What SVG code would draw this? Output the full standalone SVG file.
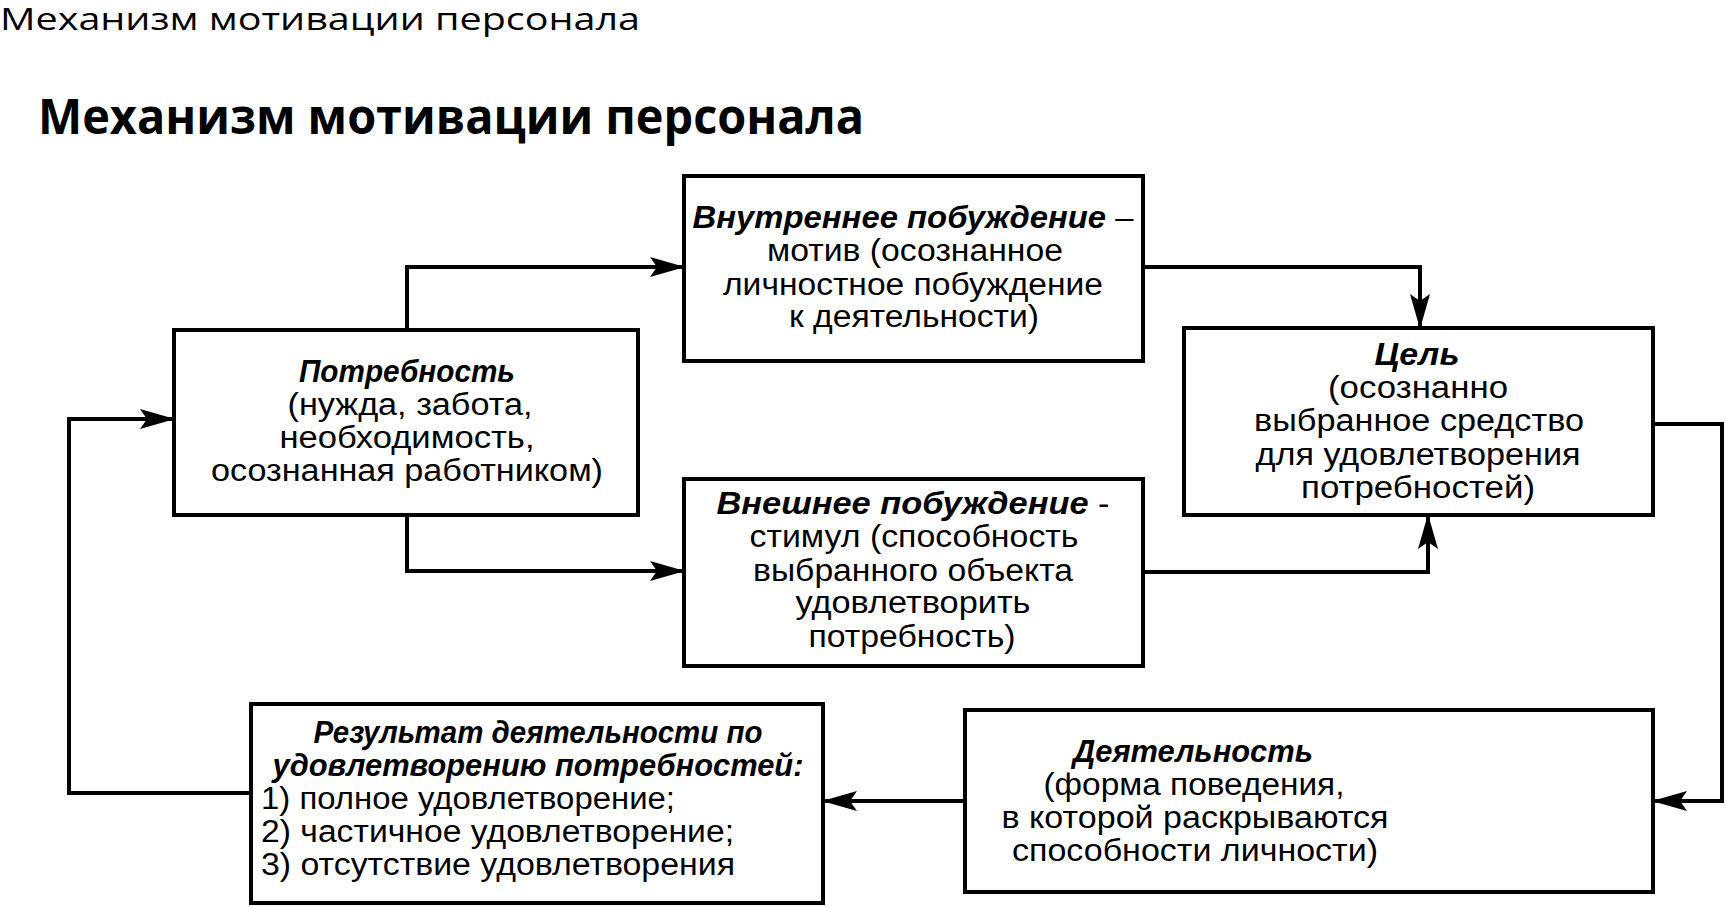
<svg xmlns="http://www.w3.org/2000/svg" width="1726" height="907" viewBox="0 0 1726 907">
<style>
.box{fill:#fff;stroke:#000;stroke-width:4}
.t{font-family:"Liberation Sans",Arial,sans-serif;font-size:31px;fill:#000;text-anchor:middle}
.n{font-family:"Liberation Sans Narrow","Liberation Sans",Arial,sans-serif;font-size:31px;fill:#000;text-anchor:middle}
.l{text-anchor:start}
.b{font-weight:bold;font-style:italic}
.c{fill:none;stroke:#000;stroke-width:4}
</style>
<defs>
<marker id="ah" markerUnits="userSpaceOnUse" markerWidth="40" markerHeight="26" refX="34" refY="11" orient="auto">
<path d="M0,1 L35,11 L0,21 L7,11 Z" fill="#000"/>
</marker>
</defs>
<rect width="1726" height="907" fill="#fff"/>
<text x="0" y="30" font-family="'Open Sans','Noto Sans',sans-serif" font-size="31" textLength="640" lengthAdjust="spacingAndGlyphs">Механизм мотивации персонала</text>
<text x="38" y="134" font-family="'Open Sans','Noto Sans',sans-serif" font-weight="bold" font-size="49" textLength="826" lengthAdjust="spacingAndGlyphs">Механизм мотивации персонала</text>

<g id="connectors">
<path class="c" d="M407,330 V267 H684" marker-end="url(#ah)"/>
<path class="c" d="M407,515 V571 H684" marker-end="url(#ah)"/>
<path class="c" d="M1143,267 H1420 V328" marker-end="url(#ah)"/>
<path class="c" d="M1143,572 H1428 V515" marker-end="url(#ah)"/>
<path class="c" d="M1653,424 H1722 V801 H1653" marker-end="url(#ah)"/>
<path class="c" d="M965,801 H823" marker-end="url(#ah)"/>
<path class="c" d="M251,793 H69 V419 H174" marker-end="url(#ah)"/>
</g>

<g id="need">
<rect class="box" x="174" y="330" width="464" height="185"/>
<text class="t b" x="407" y="382" textLength="216" lengthAdjust="spacingAndGlyphs">Потребность</text>
<text class="t" x="410" y="415" textLength="245" lengthAdjust="spacingAndGlyphs">(нужда, забота,</text>
<text class="t" x="407" y="448" textLength="255" lengthAdjust="spacingAndGlyphs">необходимость,</text>
<text class="t" x="407" y="481" textLength="392" lengthAdjust="spacingAndGlyphs">осознанная работником)</text>
</g>

<g id="motive">
<rect class="box" x="684" y="176" width="459" height="185"/>
<text class="t" x="913" y="228" textLength="441" lengthAdjust="spacingAndGlyphs"><tspan class="b">Внутреннее побуждение</tspan> –</text>
<text class="t" x="915" y="261" textLength="296" lengthAdjust="spacingAndGlyphs">мотив (осознанное</text>
<text class="t" x="913" y="295" textLength="380" lengthAdjust="spacingAndGlyphs">личностное побуждение</text>
<text class="t" x="914" y="327" textLength="250" lengthAdjust="spacingAndGlyphs">к деятельности)</text>
</g>

<g id="stimulus">
<rect class="box" x="684" y="479" width="459" height="187"/>
<text class="n" x="913" y="514" textLength="393" lengthAdjust="spacingAndGlyphs"><tspan class="b">Внешнее побуждение</tspan> -</text>
<text class="n" x="914" y="547" textLength="329" lengthAdjust="spacingAndGlyphs">стимул (способность</text>
<text class="n" x="913" y="581" textLength="320" lengthAdjust="spacingAndGlyphs">выбранного объекта</text>
<text class="n" x="913" y="613" textLength="235" lengthAdjust="spacingAndGlyphs">удовлетворить</text>
<text class="n" x="912" y="647" textLength="207" lengthAdjust="spacingAndGlyphs">потребность)</text>
</g>

<g id="goal">
<rect class="box" x="1184" y="328" width="469" height="187"/>
<text class="t b" x="1417" y="365" textLength="85" lengthAdjust="spacingAndGlyphs">Цель</text>
<text class="t" x="1418" y="398" textLength="180" lengthAdjust="spacingAndGlyphs">(осознанно</text>
<text class="t" x="1419" y="431" textLength="330" lengthAdjust="spacingAndGlyphs">выбранное средство</text>
<text class="t" x="1418" y="465" textLength="325" lengthAdjust="spacingAndGlyphs">для удовлетворения</text>
<text class="t" x="1418" y="498" textLength="234" lengthAdjust="spacingAndGlyphs">потребностей)</text>
</g>

<g id="activity">
<rect class="box" x="965" y="710" width="688" height="182"/>
<text class="n b" x="1193" y="762" textLength="240" lengthAdjust="spacingAndGlyphs">Деятельность</text>
<text class="n" x="1194" y="795" textLength="301" lengthAdjust="spacingAndGlyphs">(форма поведения,</text>
<text class="n" x="1195" y="828" textLength="387" lengthAdjust="spacingAndGlyphs">в которой раскрываются</text>
<text class="n" x="1195" y="861" textLength="366" lengthAdjust="spacingAndGlyphs">способности личности)</text>
</g>

<g id="result">
<rect class="box" x="251" y="704" width="572" height="199"/>
<text class="n b" x="538" y="743" textLength="449" lengthAdjust="spacingAndGlyphs">Результат деятельности по</text>
<text class="n b" x="538" y="776" textLength="531" lengthAdjust="spacingAndGlyphs">удовлетворению потребностей:</text>
<text class="n l" x="261" y="809" textLength="414" lengthAdjust="spacingAndGlyphs">1) полное удовлетворение;</text>
<text class="n l" x="261" y="842" textLength="473" lengthAdjust="spacingAndGlyphs">2) частичное удовлетворение;</text>
<text class="n l" x="261" y="875" textLength="474" lengthAdjust="spacingAndGlyphs">3) отсутствие удовлетворения</text>
</g>
</svg>
